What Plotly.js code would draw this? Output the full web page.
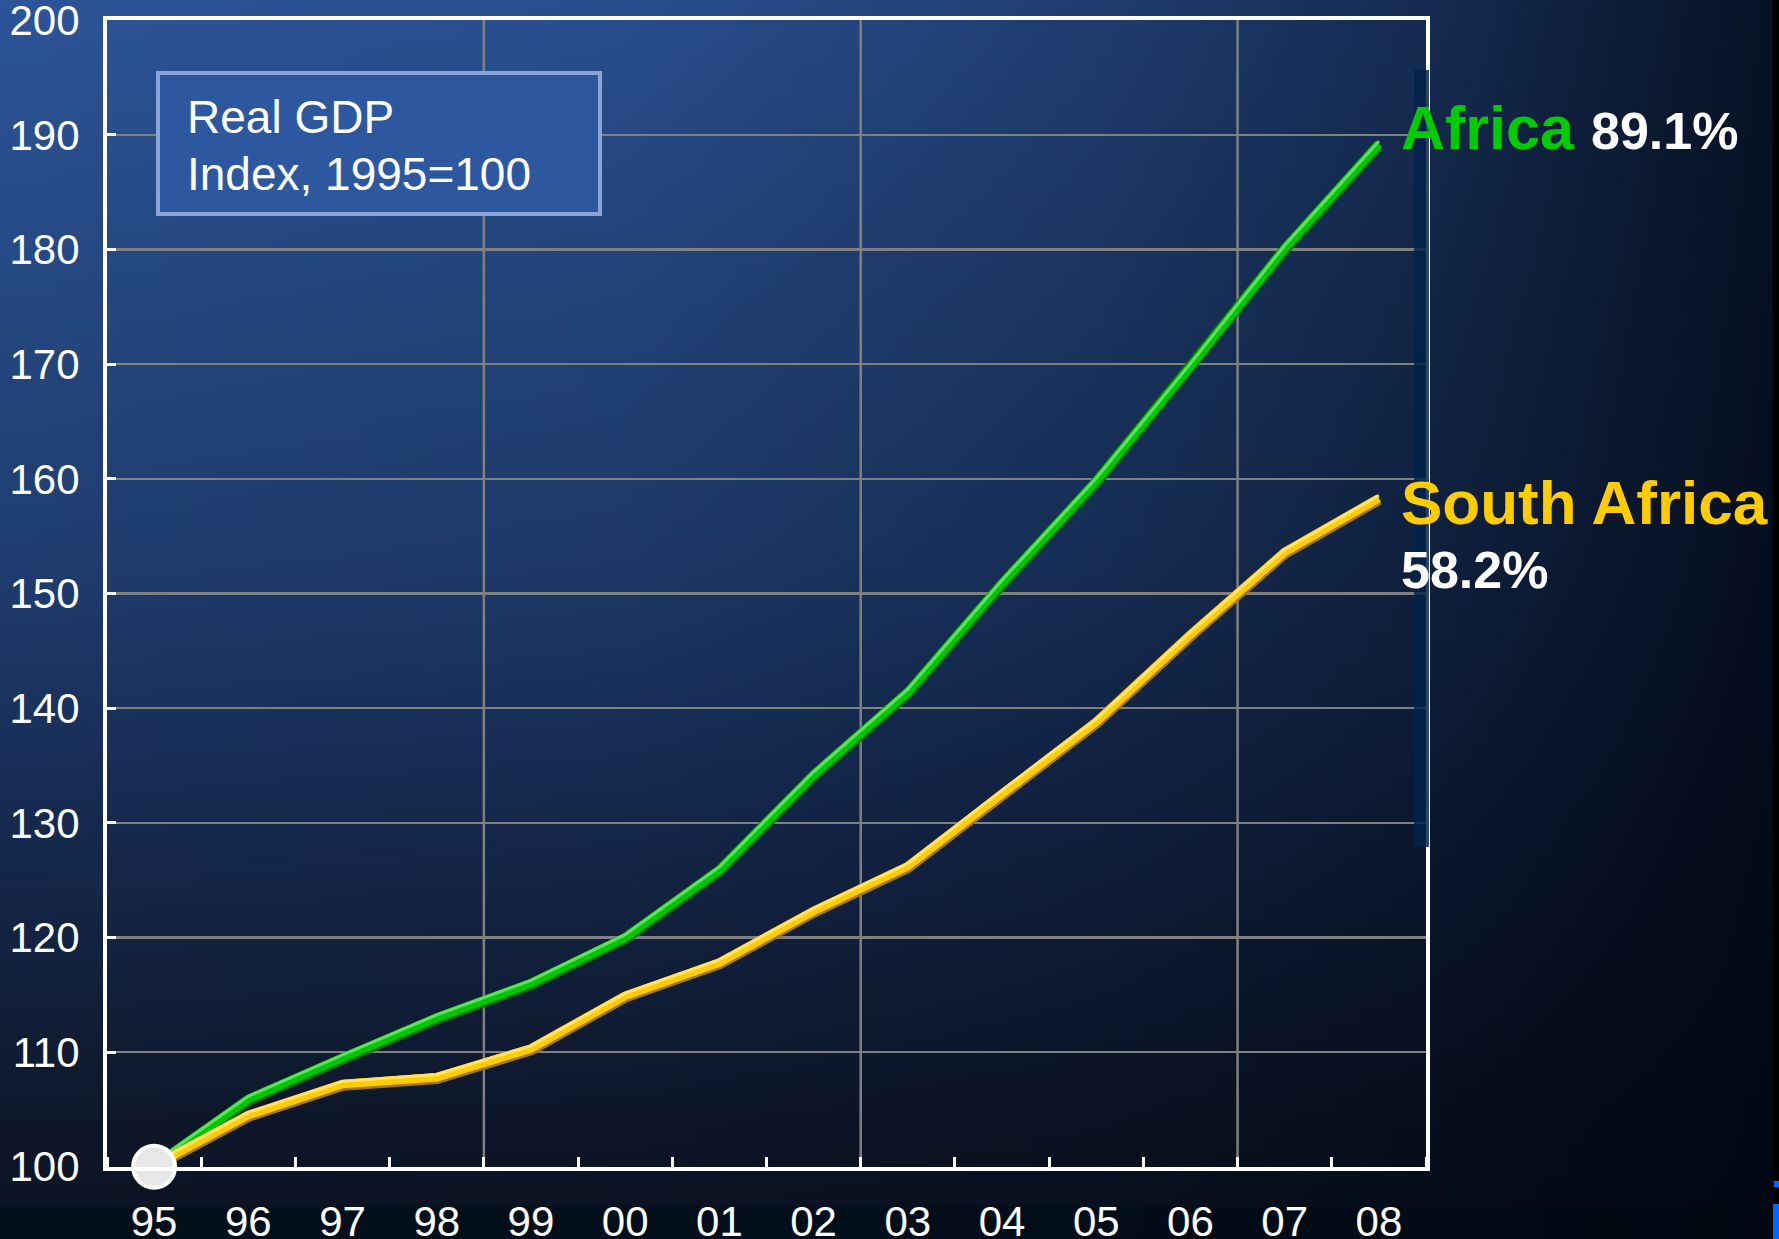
<!DOCTYPE html>
<html>
<head>
<meta charset="utf-8">
<script src="https://cdn.plot.ly/plotly-3.0.1.min.js"></script>
<style>
  html, body { margin: 0; padding: 0; width: 1779px; height: 1239px; overflow: hidden; }
  body {
    background:
      linear-gradient(to right, rgba(0,6,16,0) 0%, rgba(0,6,16,0.08) 35%, rgba(0,6,16,0.3) 62%, rgba(0,6,16,0.55) 82%, rgba(0,6,16,0.85) 99.6%, #000 99.7%),
      linear-gradient(to bottom, #2c5499 0%, #24477f 25%, #1f3d70 45%, #162a50 66%, #0e182b 90%, #0c1424 97.3%, #02101c 97.5%, #02101c 100%);
  }
  #chart { width: 1779px; height: 1239px; }
</style>
</head>
<body>
<div id="chart"></div>
<script>
// Real GDP index (1995 = 100), 1995-2008
const years = ["95", "96", "97", "98", "99", "00", "01", "02", "03", "04", "05", "06", "07", "08"];
const africa = [100, 105.8, 109.4, 112.9, 115.9, 119.9, 125.8, 134.1, 141.3, 150.8, 159.7, 169.7, 180.0, 189.1];
const southAfrica = [100, 104.4, 107.1, 107.7, 110.2, 114.8, 117.7, 122.2, 126.1, 132.5, 138.7, 146.3, 153.5, 158.2];
const yTicks = [100, 110, 120, 130, 140, 150, 160, 170, 180, 190, 200];
const seriesNames = ["Africa", "South Africa"];
const growthLabels = ["89.1%", "58.2%"];
const boxLines = ["Real GDP", "Index, 1995=100"];

const W = 1779, H = 1239;
const M = { l: 107, r: 353, t: 20, b: 72 };
const PW = W - M.l - M.r, PH = H - M.t - M.b;
const px = x => (x - M.l) / PW;
const py = y => (H - M.b - y) / PH;

const idx = years.map((_, i) => i);
const FONT = "Liberation Sans, Arial, sans-serif";

// Each series is built from three stacked strokes: dark base, main colour, thin highlight
function lineTraces(values, dark, main, hi) {
  const base = { x: idx, y: values, type: "scatter", mode: "lines", hoverinfo: "skip",
                 cliponaxis: false, showlegend: false };
  return [
    { ...base, line: { color: dark, width: 11 } },
    { ...base, line: { color: main, width: 8.5 } },
    { ...base, line: { color: hi, width: 3 } }
  ];
}

const traces = [
  ...lineTraces(africa, "#007800", "#00c800", "#5fe05f"),
  ...lineTraces(southAfrica, "#a67a00", "#ffcc00", "#ffe26a"),
  { x: [idx[0]], y: [africa[0]], type: "scatter", mode: "markers", hoverinfo: "skip", showlegend: false,
    cliponaxis: false,
    marker: { size: 42, color: "#e8e8e8", line: { color: "#ffffff", width: 4 } } }
];
// vertical offsets (px) of the stacked strokes: base, main, highlight
const strokeShift = [0, -1.3, -4];

// vertical gridlines every four category boundaries
const vGrid = [];
for (let b = 4; b < years.length; b += 4) {
  vGrid.push({ type: "line", layer: "below", xref: "x", yref: "paper",
    x0: b - 0.5, x1: b - 0.5, y0: 0, y1: 1, line: { color: "#808080", width: 2.5 } });
}

const shapes = [
  ...vGrid,
  // caption box
  { type: "rect", layer: "above", xref: "paper", yref: "paper",
    x0: px(158), x1: px(600), y0: py(214), y1: py(73),
    fillcolor: "#2d58a0", line: { color: "#8aa4d8", width: 4 } },
  // translucent strip over the right frame
  { type: "rect", layer: "above", xref: "paper", yref: "paper",
    x0: px(1414), x1: px(1429), y0: py(847), y1: py(70),
    fillcolor: "rgba(2,34,74,0.84)", line: { width: 0 } },
  // small blue marks in the lower right corner
  { type: "rect", layer: "above", xref: "paper", yref: "paper",
    x0: px(1774), x1: px(1779), y0: py(1187), y1: py(1181), fillcolor: "#0066ff", line: { width: 0 } },
  { type: "rect", layer: "above", xref: "paper", yref: "paper",
    x0: px(1773), x1: px(1779), y0: py(1239), y1: py(1204), fillcolor: "#0066ff", line: { width: 0 } }
];

const annotations = [
  { xref: "paper", yref: "paper", x: px(186), y: py(117), xanchor: "left", yanchor: "middle",
    showarrow: false, borderpad: 0,
    text: boxLines[0], font: { family: FONT, size: 46, color: "#ffffff" } },
  { xref: "paper", yref: "paper", x: px(186), y: py(174), xanchor: "left", yanchor: "middle",
    showarrow: false, borderpad: 0,
    text: boxLines[1], font: { family: FONT, size: 46, color: "#ffffff" } },
  { xref: "paper", yref: "paper", x: px(1400), y: py(128), xanchor: "left", yanchor: "middle",
    showarrow: false, borderpad: 0,
    text: "<b>" + seriesNames[0] + "</b>", font: { family: FONT, size: 61, color: "#00cc00" } },
  { xref: "paper", yref: "paper", x: px(1590), y: py(131), xanchor: "left", yanchor: "middle",
    showarrow: false, borderpad: 0,
    text: "<b>" + growthLabels[0] + "</b>", font: { family: FONT, size: 52, color: "#ffffff" } },
  { xref: "paper", yref: "paper", x: px(1400), y: py(502), xanchor: "left", yanchor: "middle",
    showarrow: false, borderpad: 0,
    text: "<b>" + seriesNames[1] + "</b>", font: { family: FONT, size: 62, color: "#ffcc00" } },
  { xref: "paper", yref: "paper", x: px(1400), y: py(570), xanchor: "left", yanchor: "middle",
    showarrow: false, borderpad: 0,
    text: "<b>" + growthLabels[1] + "</b>", font: { family: FONT, size: 52, color: "#ffffff" } }
];

const layout = {
  width: W, height: H,
  margin: M,
  paper_bgcolor: "rgba(0,0,0,0)",
  plot_bgcolor: "rgba(0,0,0,0)",
  showlegend: false,
  font: { family: FONT, color: "#ffffff" },
  xaxis: {
    range: [-0.5, years.length - 0.5], fixedrange: true,
    tickmode: "array", tickvals: idx, ticktext: years, ticks: "",
    tickfont: { family: FONT, size: 42, color: "#ffffff" },
    ticklabelstandoff: 15,
    showgrid: false, zeroline: false,
    showline: true, linecolor: "#ffffff", linewidth: 4, mirror: true,
    minor: { tickmode: "linear", tick0: 0.5, dtick: 1, ticks: "inside", ticklen: 10,
             tickwidth: 3, tickcolor: "#ffffff", showgrid: false }
  },
  yaxis: {
    range: [99.98, 200.02], fixedrange: true,
    tickmode: "array", tickvals: yTicks, ticktext: yTicks.map(String),
    ticklabeloverflow: "allow",
    ticks: "inside", ticklen: 9, tickwidth: 3, tickcolor: "#ffffff",
    tickfont: { family: FONT, size: 42, color: "#ffffff" },
    ticklabelstandoff: 15,
    showgrid: true, gridcolor: "#808080", gridwidth: 2.5, zeroline: false,
    showline: true, linecolor: "#ffffff", linewidth: 4, mirror: true
  },
  shapes: shapes,
  annotations: annotations
};

Plotly.newPlot("chart", traces, layout, { staticPlot: true, displayModeBar: false }).then(() => {
  // stack the strokes of each series with small vertical offsets for a bevelled look
  const groups = document.querySelectorAll(".scatterlayer .trace");
  groups.forEach((g, i) => {
    if (i < 6) g.setAttribute("transform", "translate(0," + strokeShift[i % 3] + ")");
  });
});
</script>
</body>
</html>
